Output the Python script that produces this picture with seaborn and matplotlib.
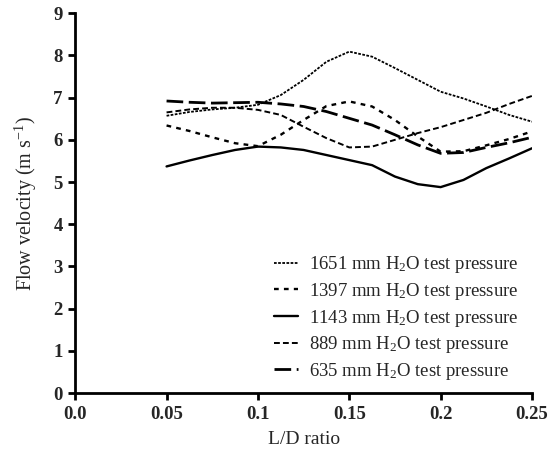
import pandas as pd
import seaborn as sns
import matplotlib.pyplot as plt

# valores (cada 0.0125 de L/D)
ld_ratio = [0.05, 0.0625, 0.075, 0.0875, 0.1, 0.1125, 0.125, 0.1375, 0.15,
            0.1625, 0.175, 0.1875, 0.2, 0.2125, 0.225, 0.2375, 0.25]
v_1651 = [6.57, 6.66, 6.72, 6.76, 6.83, 7.06, 7.42, 7.85, 8.09,
          7.97, 7.70, 7.42, 7.14, 6.98, 6.79, 6.59, 6.43]
v_1397 = [6.34, 6.21, 6.06, 5.92, 5.85, 6.12, 6.47, 6.80, 6.91,
          6.79, 6.47, 6.08, 5.72, 5.73, 5.87, 6.02, 6.20]
v_1143 = [5.37, 5.51, 5.64, 5.76, 5.84, 5.82, 5.76, 5.64, 5.52,
          5.40, 5.13, 4.95, 4.88, 5.05, 5.33, 5.56, 5.80]
v_889 = [6.65, 6.72, 6.76, 6.76, 6.71, 6.59, 6.31, 6.04, 5.82,
         5.84, 6.00, 6.16, 6.30, 6.47, 6.64, 6.85, 7.04]
v_635 = [6.92, 6.89, 6.87, 6.88, 6.89, 6.85, 6.79, 6.67, 6.51,
         6.35, 6.12, 5.88, 5.68, 5.70, 5.82, 5.93, 6.06]

series = [
    ('1651', v_1651, (0, (1.5, 0.8)), 1.3),
    ('1397', v_1397, (0, (2.0, 2.2)), 1.7),
    ('1143', v_1143, '-', 1.7),
    ('889', v_889, (0, (3.0, 1.6)), 1.4),
    ('635', v_635, (0, (6.0, 2.0)), 2.0),
]

sns.set_theme(style="ticks")
plt.rcParams['font.family'] = ['Liberation Serif', 'DejaVu Serif']
plt.rcParams['mathtext.fontset'] = 'custom'
plt.rcParams['mathtext.rm'] = 'Liberation Serif'
plt.rcParams['mathtext.it'] = 'Liberation Serif:italic'

fig = plt.figure(figsize=(5.49, 4.55), dpi=100)
ax = fig.add_axes([0.137, 0.136, 0.832, 0.835])

for name, vals, ls, lw in series:
    df = pd.DataFrame({'ld': ld_ratio, 'v': vals})
    sns.lineplot(data=df, x='ld', y='v', ax=ax, color='black', linewidth=lw,
                 linestyle=ls, label=f'{name} mm H$_\\mathrm{{2}}$O test pressure')

ax.set_xlim(0, 0.25)
ax.set_ylim(0, 9)
ax.set_xticks([0, 0.05, 0.1, 0.15, 0.2, 0.25])
ax.set_xticklabels(['0.0', '0.05', '0.1', '0.15', '0.2', '0.25'])
ax.set_yticks(range(0, 10))
for lab in ax.get_xticklabels() + ax.get_yticklabels():
    lab.set_fontweight('bold')
    lab.set_fontsize(13.5)
ax.tick_params(width=2, length=5, color='black', pad=4)
sns.despine(ax=ax)
for sp in ['left', 'bottom']:
    ax.spines[sp].set_linewidth(2)
    ax.spines[sp].set_color('black')

ax.set_xlabel('L/D ratio', fontsize=14, labelpad=6)
ax.set_ylabel('Flow velocity (m s$^{-1}$)', fontsize=14.5, labelpad=10)

ax.legend(loc='lower right', frameon=False, fontsize=13.5, handlelength=1.3,
          handletextpad=0.6, labelspacing=0.3, borderaxespad=0.3,
          bbox_to_anchor=(1.0, -0.005))

plt.savefig('out.png', dpi=100)
